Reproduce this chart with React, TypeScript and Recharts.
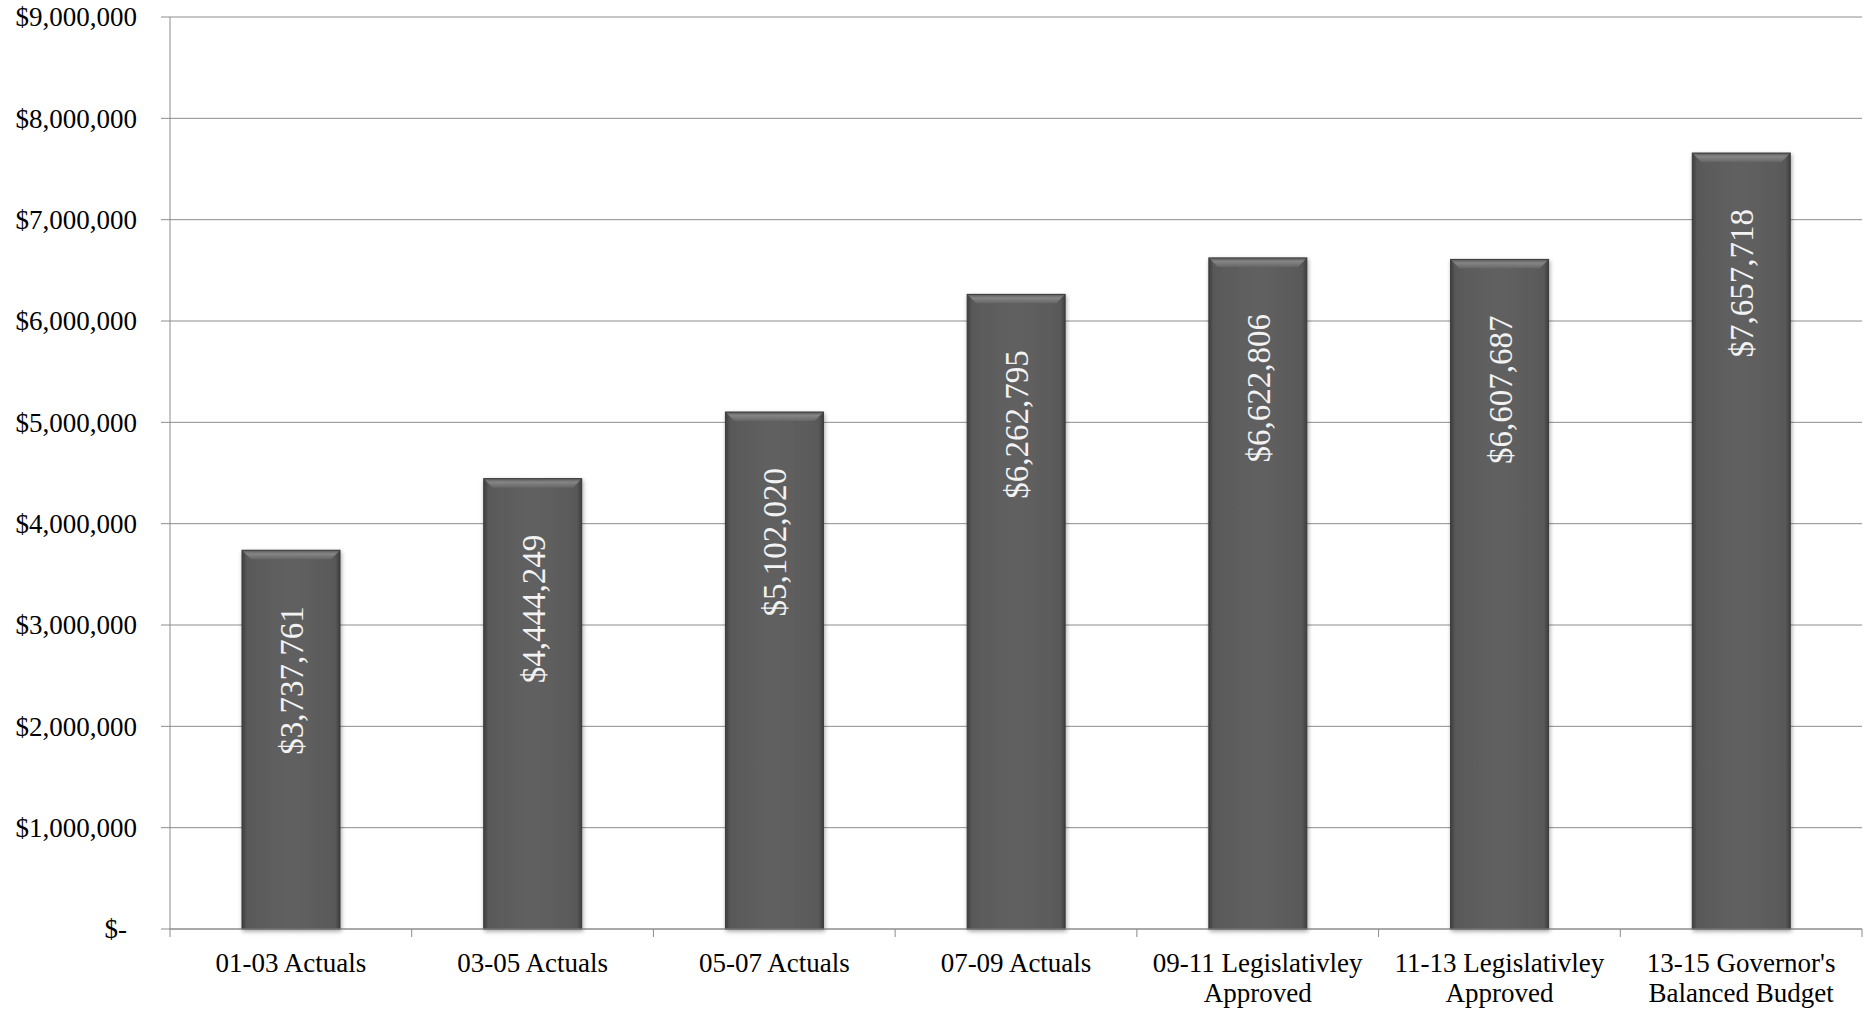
import React from "react";
import { BarChart, Bar, XAxis, YAxis, CartesianGrid, LabelList } from "recharts";

const categories = [
  "01-03 Actuals",
  "03-05 Actuals",
  "05-07 Actuals",
  "07-09 Actuals",
  "09-11 Legislativley Approved",
  "11-13 Legislativley Approved",
  "13-15 Governor's Balanced Budget",
];

const budget = [3737761, 4444249, 5102020, 6262795, 6622806, 6607687, 7657718];

const yTicks = [0, 1000000, 2000000, 3000000, 4000000, 5000000, 6000000, 7000000, 8000000, 9000000];

const data = categories.map((name, i) => ({ name, value: budget[i] }));

const FONT = "'Liberation Serif', 'Times New Roman', serif";
const GRID = "#8c8c8c";

const money = (v: number) => (v === 0 ? "$-" : "$" + v.toLocaleString("en-US"));

// greedy word wrap, same as the excel category labels
function wrap(label: string, max = 19) {
  const lines: string[] = [];
  let cur = "";
  for (const w of label.split(" ")) {
    const next = cur ? cur + " " + w : w;
    if (next.length > max && cur) {
      lines.push(cur);
      cur = w;
    } else cur = next;
  }
  if (cur) lines.push(cur);
  return lines;
}

function CategoryTick(props: any) {
  const { x, y, payload, index, width, visibleTicksCount } = props;
  const count = visibleTicksCount || categories.length;
  const half = width ? width / count / 2 : 120.9;
  const lines = wrap(payload.value);
  return (
    <g>
      <line x1={x - half} x2={x - half} y1={y} y2={y + 8} stroke={GRID} strokeWidth={1} />
      {index === count - 1 && (
        <line x1={x + half} x2={x + half} y1={y} y2={y + 8} stroke={GRID} strokeWidth={1} />
      )}
      <text x={x} y={y + 43} textAnchor="middle" fontFamily={FONT} fontSize={27} fill="#000">
        {lines.map((l, i) => (
          <tspan key={i} x={x} dy={i === 0 ? 0 : 30}>
            {l}
          </tspan>
        ))}
      </text>
    </g>
  );
}

function MoneyTick(props: any) {
  const { x, y, payload } = props;
  const v = payload.value as number;
  return (
    <text
      x={x - (v === 0 ? 10 : 0)}
      y={y}
      dy="0.35em"
      textAnchor="end"
      fontFamily={FONT}
      fontSize={27}
      fill="#000"
    >
      {money(v)}
    </text>
  );
}

function BevelBar(props: any) {
  const { x, y, width, height } = props;
  if (!height || height <= 0) return null;
  const b = 9;
  return (
    <g filter="url(#barShadow)">
      <rect x={x} y={y} width={width} height={height} fill="url(#barBody)" />
      <path
        d={`M${x},${y} L${x + width},${y} L${x + width - b},${y + b} L${x + b},${y + b} Z`}
        fill="url(#barTop)"
      />
      <rect x={x} y={y} width={width} height={height} fill="none" stroke="#3a3a3a" strokeWidth={1} />
    </g>
  );
}

function ValueLabel(props: any) {
  const vb = props.viewBox || {};
  const x = props.x ?? vb.x;
  const y = props.y ?? vb.y;
  const width = props.width ?? vb.width;
  const cx = x + width / 2;
  const top = y + 56;
  return (
    <text
      x={cx}
      y={top}
      dy={12}
      transform={`rotate(-90 ${cx} ${top})`}
      textAnchor="end"
      fontFamily={FONT}
      fontSize={33}
      fill="#f2f2f2"
    >
      {money(Number(props.value))}
    </text>
  );
}

export default function App() {
  return (
    <div style={{ position: "absolute", left: 0, top: 0, background: "#fff" }}>
      <BarChart
        width={1867}
        height={1012}
        data={data}
        margin={{ top: 17, right: 5, bottom: 0, left: 0 }}
        barSize={98}
      >
        <defs>
          <linearGradient id="barBody" x1="0" y1="0" x2="1" y2="0">
            <stop offset="0%" stopColor="#3e3e3e" />
            <stop offset="5%" stopColor="#595959" />
            <stop offset="50%" stopColor="#616161" />
            <stop offset="95%" stopColor="#595959" />
            <stop offset="100%" stopColor="#3e3e3e" />
          </linearGradient>
          <linearGradient id="barTop" x1="0" y1="0" x2="0" y2="1">
            <stop offset="0%" stopColor="#5a5a5a" />
            <stop offset="40%" stopColor="#858585" />
            <stop offset="100%" stopColor="#666666" />
          </linearGradient>
          <filter id="barShadow" x="-20%" y="-5%" width="140%" height="110%">
            <feDropShadow dx="1" dy="2" stdDeviation="2" floodColor="#000" floodOpacity="0.35" />
          </filter>
        </defs>
        <CartesianGrid vertical={false} stroke={GRID} strokeWidth={1} />
        <XAxis
          dataKey="name"
          height={83}
          interval={0}
          axisLine={{ stroke: GRID }}
          tickLine={false}
          tickSize={0}
          tickMargin={0}
          tick={<CategoryTick />}
        />
        <YAxis
          width={170}
          domain={[0, 9000000]}
          ticks={yTicks}
          interval={0}
          axisLine={{ stroke: GRID }}
          tickLine={{ stroke: GRID }}
          tickSize={9}
          tickMargin={24}
          tick={<MoneyTick />}
        />
        <Bar dataKey="value" shape={<BevelBar />} isAnimationActive={false}>
          <LabelList dataKey="value" content={<ValueLabel />} />
        </Bar>
      </BarChart>
    </div>
  );
}
